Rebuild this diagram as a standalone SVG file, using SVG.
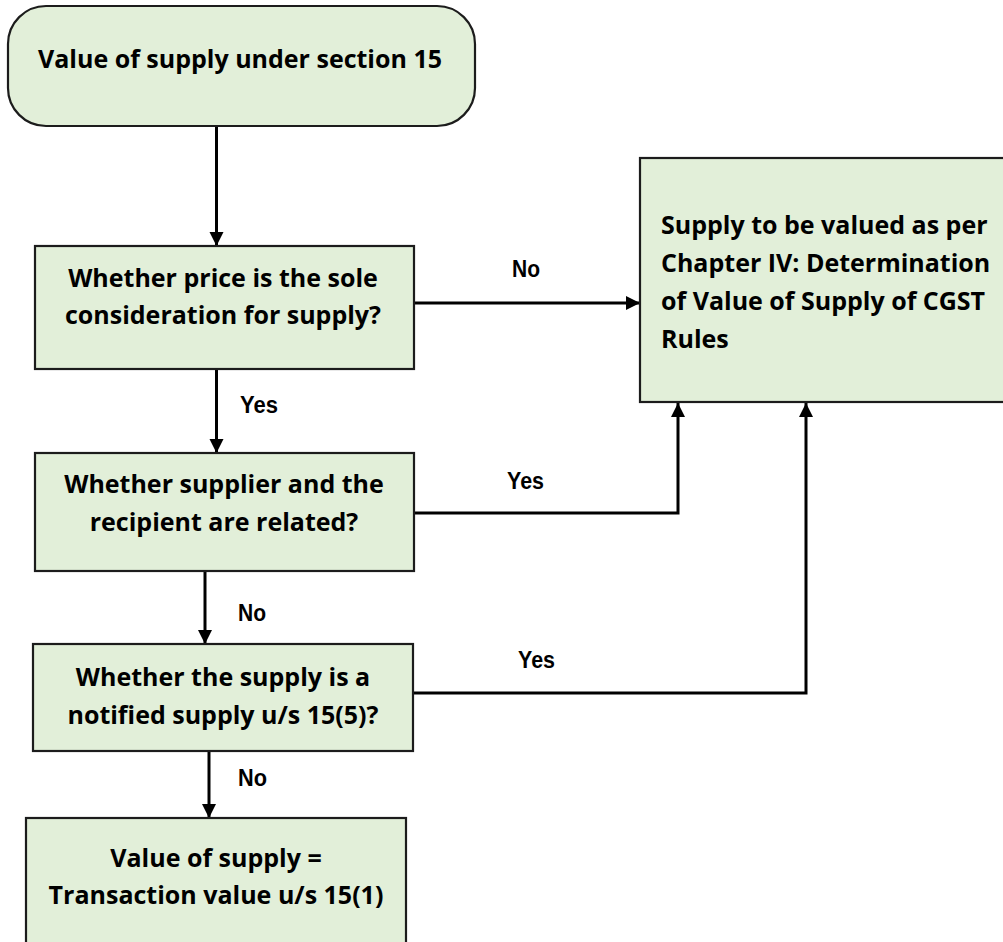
<svg xmlns="http://www.w3.org/2000/svg" width="1003" height="942" viewBox="0 0 1003 942">
  <style>
    .box { fill: #E2EFD9; stroke: #1c1c1c; stroke-width: 2.2; }
    .t { font-family: "Open Sans", "Noto Sans", sans-serif; font-weight: 700; font-size: 25px; fill: #000; }
    .c { text-anchor: middle; }
    .lbl { font-family: "Liberation Sans", Arial, sans-serif; font-weight: 700; font-size: 23px; fill: #000; }
    .wire { fill: none; stroke: #000; stroke-width: 3; marker-end: url(#head); }
  </style>
  <defs>
    <marker id="head" markerUnits="userSpaceOnUse" markerWidth="16" markerHeight="16" refX="14" refY="7" orient="auto">
      <path d="M0,0 L14,7 L0,14 Z" fill="#000"/>
    </marker>
  </defs>
  <rect width="1003" height="942" fill="#fff"/>

  <!-- connectors -->
  <g id="connectors">
    <path class="wire" d="M216.5,126 V246"/>
    <path class="wire" d="M414,303 H640"/>
    <path class="wire" d="M216.5,369 V453"/>
    <path class="wire" d="M414,513 H678 V403"/>
    <path class="wire" d="M205,571 V644"/>
    <path class="wire" d="M414,693 H806 V403"/>
    <path class="wire" d="M209,751 V818"/>
    <text class="lbl" x="512" y="277" textLength="28" lengthAdjust="spacingAndGlyphs">No</text>
    <text class="lbl" x="240" y="413" textLength="38" lengthAdjust="spacingAndGlyphs">Yes</text>
    <text class="lbl" x="507" y="489" textLength="37" lengthAdjust="spacingAndGlyphs">Yes</text>
    <text class="lbl" x="238" y="621" textLength="28" lengthAdjust="spacingAndGlyphs">No</text>
    <text class="lbl" x="518" y="668" textLength="37" lengthAdjust="spacingAndGlyphs">Yes</text>
    <text class="lbl" x="238" y="786" textLength="29" lengthAdjust="spacingAndGlyphs">No</text>
  </g>

  <!-- start -->
  <g id="start">
    <rect class="box" x="8" y="6" width="467" height="120" rx="38" ry="38"/>
    <text class="t c" x="240" y="68">Value of supply under section 15</text>
  </g>

  <!-- decision: price sole consideration -->
  <g id="q-price">
    <rect class="box" x="35" y="246" width="379" height="123"/>
    <text class="t c" x="223" y="287">Whether price is the sole</text>
    <text class="t c" x="223" y="324">consideration for supply?</text>
  </g>

  <!-- outcome: valuation rules -->
  <g id="rules">
    <rect class="box" x="640" y="158" width="372" height="244"/>
    <text class="t" x="661" y="234">Supply to be valued as per</text>
    <text class="t" x="661" y="272">Chapter IV: Determination</text>
    <text class="t" x="661" y="310">of Value of Supply of CGST</text>
    <text class="t" x="661" y="348">Rules</text>
  </g>

  <!-- decision: related parties -->
  <g id="q-related">
    <rect class="box" x="35" y="453" width="379" height="118"/>
    <text class="t c" x="224" y="493">Whether supplier and the</text>
    <text class="t c" x="224" y="531">recipient are related?</text>
  </g>

  <!-- decision: notified supply -->
  <g id="q-notified">
    <rect class="box" x="33" y="644" width="380" height="107"/>
    <text class="t c" x="223" y="686">Whether the supply is a</text>
    <text class="t c" x="223" y="724">notified supply u/s 15(5)?</text>
  </g>

  <!-- outcome: transaction value -->
  <g id="transaction">
    <rect class="box" x="26" y="818" width="380" height="140"/>
    <text class="t c" x="216" y="867">Value of supply =</text>
    <text class="t c" x="216" y="904">Transaction value u/s 15(1)</text>
  </g>
</svg>
